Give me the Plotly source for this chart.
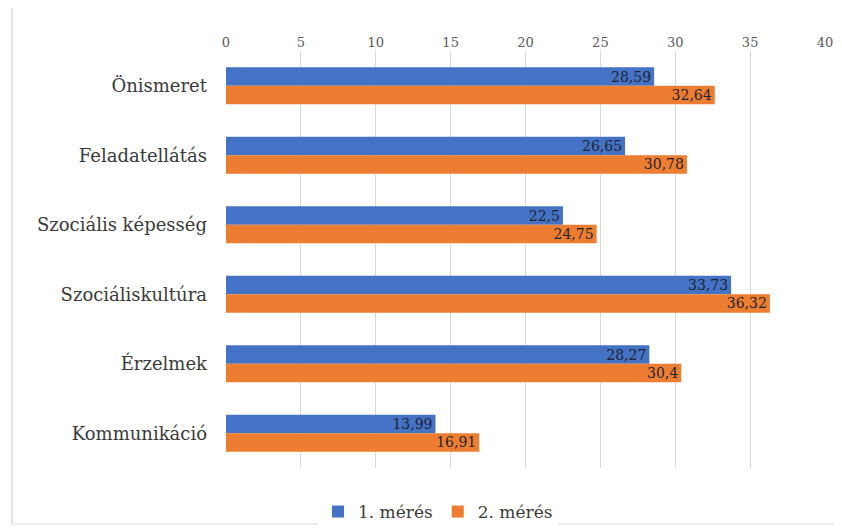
import plotly.graph_objects as go

categories = ["Önismeret", "Feladatellátás", "Szociális képesség", "Szociáliskultúra", "Érzelmek", "Kommunikáció"]
meres1 = [28.59, 26.65, 22.5, 33.73, 28.27, 13.99]
meres2 = [32.64, 30.78, 24.75, 36.32, 30.4, 16.91]
series_names = ["1. mérés", "2. mérés"]
x_ticks = [0, 5, 10, 15, 20, 25, 30, 35, 40]

def fmt(v):
    return str(v).replace(".", ",")

FONT = "DejaVu Serif"
colors = ["#4472C4", "#ED7D31"]

fig = go.Figure()
for name, vals, col in zip(series_names, [meres1, meres2], colors):
    fig.add_trace(go.Bar(
        y=categories, x=vals, orientation="h", name=name,
        marker=dict(color=col, line=dict(width=0)),
        text=[fmt(v) for v in vals], textposition="inside",
        insidetextanchor="end", constraintext="none",
        textfont=dict(family=FONT, size=14, color="#1F2430"),
        cliponaxis=False,
    ))

# page body has an 8px margin; work in page pixels and convert
OFF = 8
W, H = 842 - OFF, 530 - OFF
ml, mr, mt, mb = 226 - OFF, 842 - 825, 51 - OFF, 530 - 468
pw = W - ml - mr
ph = H - mt - mb

def px2paper_x(p):
    return (p - OFF - ml) / pw

def px2paper_y(p):
    return (H - mb - (p - OFF)) / ph

fig.update_layout(
    width=W, height=H,
    margin=dict(l=ml, r=mr, t=mt, b=mb, autoexpand=False),
    paper_bgcolor="white", plot_bgcolor="white",
    barmode="group", bargap=0.47, bargroupgap=0,
    font=dict(family=FONT, color="#404040"),
    xaxis=dict(
        side="top", range=[0, 40], tickvals=x_ticks, ticktext=[str(t) for t in x_ticks],
        showgrid=True, gridcolor="#D9D9D9", gridwidth=1, zeroline=False, automargin=False,
        showline=False, ticks="", tickfont=dict(size=13, color="#595959", family=FONT),
    ),
    yaxis=dict(
        autorange="reversed", showgrid=False, zeroline=False, showline=False, ticks="",
        automargin=False,
        tickfont=dict(size=18, color="#3A3A3A", family=FONT), ticklabelstandoff=18,
    ),
    legend=dict(
        orientation="h", x=px2paper_x(438), xanchor="center", y=px2paper_y(512), yanchor="middle",
        font=dict(size=17, color="#3A3A3A", family=FONT), itemwidth=30, traceorder="normal",
    ),
    showlegend=True,
    shapes=[
        dict(type="line", xref="paper", yref="paper", x0=px2paper_x(12), x1=px2paper_x(12),
             y0=px2paper_y(8), y1=px2paper_y(524), line=dict(color="#D9D9D9", width=1.5)),
        dict(type="line", xref="paper", yref="paper", x0=px2paper_x(12), x1=px2paper_x(842),
             y0=px2paper_y(524), y1=px2paper_y(524), line=dict(color="#E6E6E6", width=1.5)),
    ],
)

fig.write_html("out.html")
